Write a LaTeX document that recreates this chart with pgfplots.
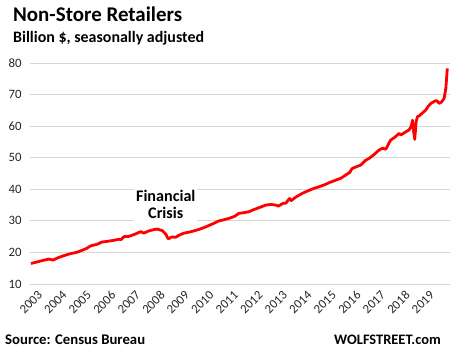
\documentclass[border=0pt]{standalone}
\usepackage{fontspec}
\setmainfont{Carlito}
\usepackage{pgfplots}
\pgfplotsset{compat=1.18}
\begin{document}
\begin{tikzpicture}[x=1bp,y=1bp]
\path[use as bounding box] (0,0) rectangle (456,-355);
\node[anchor=base west, font=\fontsize{21}{24}\selectfont\bfseries, inner sep=0] at (13,-21.3) {Non-Store Retailers};
\node[anchor=base west, font=\fontsize{16}{19}\selectfont\bfseries, inner sep=0] at (13,-42) {Billion \$, seasonally adjusted};
\node[anchor=base west, font=\fontsize{14.8}{17}\selectfont\bfseries, inner sep=0] at (5,-344) {Source: Census Bureau};
\node[anchor=base east, font=\fontsize{14.5}{17}\selectfont\bfseries, inner sep=0] at (441,-344) {WOLFSTREET.com};
\begin{axis}[at={(30bp,-284bp)}, anchor=south west, width=420bp, height=221bp, scale only axis,
  xmin=2002.96, xmax=2020.1, ymin=10, ymax=80,
  axis line style={draw=none}, tick style={draw=none},
  ymajorgrids, grid style={line width=1bp, color=black!16},
  ytick={10,20,...,80},
  xtick={2003,...,2019},
  xticklabels={2003,2004,2005,2006,2007,2008,2009,2010,2011,2012,2013,2014,2015,2016,2017,2018,2019},
  /pgf/number format/assume math mode=true,
  ticklabel style={font=\fontsize{12.8}{14}\selectfont, text=black!85},
  yticklabel style={anchor=east, xshift=-5bp},
  xticklabel style={rotate=45, anchor=east, yshift=-13bp, xshift=1bp, inner sep=1bp},
  clip=false]
\addplot[red, line width=2.8bp, line join=round] coordinates {
(2003.00,16.5) (2003.25,17.0) (2003.50,17.5) (2003.73,17.9) (2003.90,17.6)
(2004.10,18.3) (2004.35,19.0) (2004.60,19.6) (2004.85,20.0) (2005.03,20.5)
(2005.25,21.2) (2005.44,22.1) (2005.70,22.6) (2005.90,23.3) (2006.10,23.5)
(2006.35,23.8) (2006.60,24.2) (2006.66,24.0) (2006.80,25.0) (2007.00,25.1)
(2007.25,25.8) (2007.48,26.6) (2007.60,26.1) (2007.80,26.8) (2008.00,27.2)
(2008.15,27.4) (2008.36,26.9) (2008.50,25.8) (2008.60,24.3) (2008.75,24.9)
(2008.90,24.8) (2009.05,25.5) (2009.24,26.1) (2009.50,26.5) (2009.86,27.3)
(2010.10,28.0) (2010.40,29.0) (2010.67,30.0) (2010.85,30.3) (2011.08,30.8)
(2011.30,31.4) (2011.49,32.4) (2011.70,32.6) (2011.90,32.9) (2012.10,33.6)
(2012.35,34.3) (2012.58,35.0) (2012.80,35.2) (2012.99,35.0) (2013.10,34.7)
(2013.30,35.6) (2013.40,35.6) (2013.55,37.1) (2013.62,36.4) (2013.80,37.5)
(2014.07,38.7) (2014.30,39.5) (2014.55,40.3) (2014.76,40.8) (2015.00,41.5)
(2015.20,42.2) (2015.44,42.9) (2015.65,43.5) (2015.84,44.5) (2016.00,45.3)
(2016.11,46.6) (2016.30,47.2) (2016.46,47.7) (2016.66,49.2) (2016.80,49.8)
(2017.00,51.0) (2017.20,52.4) (2017.34,53.0) (2017.48,52.7) (2017.60,54.5)
(2017.68,55.6) (2017.85,56.5) (2018.02,57.7) (2018.10,57.2) (2018.25,58.0)
(2018.43,58.8) (2018.52,60.0) (2018.57,61.9) (2018.62,58.0) (2018.66,55.8)
(2018.72,61.5) (2018.77,63.0) (2018.85,63.3) (2018.95,64.0) (2019.11,65.1)
(2019.20,66.2) (2019.32,67.2) (2019.45,67.8) (2019.52,68.1) (2019.60,67.8)
(2019.65,67.2) (2019.75,67.6) (2019.86,68.8) (2019.93,72.0) (2019.99,78.3)
};
\node[fill=white, align=center, inner sep=2bp, font=\fontsize{16.2}{17}\selectfont\bfseries] at (axis cs:2008.5,35.1) {Financial\\Crisis};
\end{axis}
\end{tikzpicture}
\end{document}
